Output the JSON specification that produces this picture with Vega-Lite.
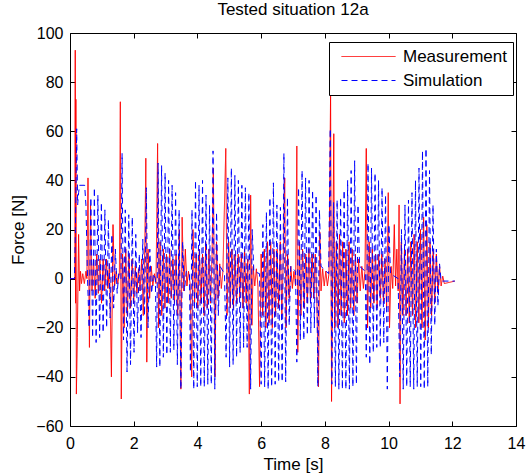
{
"$schema":"https://vega.github.io/schema/vega-lite/v6.json",
"width":446,"height":393,
"autosize":{"type":"none"},
"padding":{"left":70,"top":33,"right":11,"bottom":50},
"background":"white",
"title":{"text":"Tested situation 12a","fontSize":17,"font":"Liberation Sans","fontWeight":"normal","color":"black","anchor":"middle","offset":6},
"config":{
 "view":{"stroke":"black","strokeWidth":1},
 "axis":{"grid":false,"domain":false,"tickColor":"black","tickSize":-5,"labelFont":"Liberation Sans","labelFontSize":16,"labelColor":"black","titleFont":"Liberation Sans","titleFontSize":17,"titleFontWeight":"normal","titleColor":"black","labelFlush":false,"labelOverlap":false},
 "legend":{"labelFont":"Liberation Sans"}
},
"data":{"values":[
{"t":0,"f":0,"s":"Measurement"},{"t":0.15,"f":0,"s":"Measurement"},{"t":0.165,"f":93,"s":"Measurement"},{"t":0.175,"f":-10,"s":"Measurement"},{"t":0.185,"f":73,"s":"Measurement"},{"t":0.2,"f":-47,"s":"Measurement"},{"t":0.23,"f":-24,"s":"Measurement"},{"t":0.27,"f":18,"s":"Measurement"},{"t":0.3,"f":-5,"s":"Measurement"},{"t":0.33,"f":3,"s":"Measurement"},{"t":0.36,"f":-2,"s":"Measurement"},{"t":0.4,"f":2,"s":"Measurement"},{"t":0.45,"f":-2,"s":"Measurement"},{"t":0.5,"f":3,"s":"Measurement"},{"t":0.53,"f":0,"s":"Measurement"},{"t":0.565,"f":41,"s":"Measurement"},{"t":0.61,"f":-28,"s":"Measurement"},{"t":0.645,"f":30,"s":"Measurement"},{"t":0.69,"f":-5,"s":"Measurement"},{"t":0.74,"f":8,"s":"Measurement"},{"t":0.79,"f":-8,"s":"Measurement"},{"t":0.84,"f":10,"s":"Measurement"},{"t":0.89,"f":-6,"s":"Measurement"},{"t":0.94,"f":8,"s":"Measurement"},{"t":0.99,"f":-10,"s":"Measurement"},{"t":1.04,"f":8,"s":"Measurement"},{"t":1.09,"f":-5,"s":"Measurement"},{"t":1.14,"f":8,"s":"Measurement"},{"t":1.19,"f":-4,"s":"Measurement"},{"t":1.24,"f":6,"s":"Measurement"},{"t":1.3,"f":-40,"s":"Measurement"},{"t":1.35,"f":22,"s":"Measurement"},{"t":1.4,"f":-3,"s":"Measurement"},{"t":1.45,"f":3,"s":"Measurement"},{"t":1.5,"f":-2,"s":"Measurement"},{"t":1.55,"f":2,"s":"Measurement"},{"t":1.58,"f":72,"s":"Measurement"},{"t":1.61,"f":-49,"s":"Measurement"},{"t":1.65,"f":10,"s":"Measurement"},{"t":1.7,"f":-20,"s":"Measurement"},{"t":1.75,"f":12,"s":"Measurement"},{"t":1.8,"f":-15,"s":"Measurement"},{"t":1.85,"f":10,"s":"Measurement"},{"t":1.9,"f":-12,"s":"Measurement"},{"t":1.95,"f":8,"s":"Measurement"},{"t":2.0,"f":-10,"s":"Measurement"},{"t":2.05,"f":5,"s":"Measurement"},{"t":2.1,"f":-6,"s":"Measurement"},{"t":2.15,"f":4,"s":"Measurement"},{"t":2.2,"f":-5,"s":"Measurement"},{"t":2.25,"f":8,"s":"Measurement"},{"t":2.3,"f":-15,"s":"Measurement"},{"t":2.35,"f":15,"s":"Measurement"},{"t":2.38,"f":49,"s":"Measurement"},{"t":2.41,"f":-34,"s":"Measurement"},{"t":2.45,"f":12,"s":"Measurement"},{"t":2.5,"f":-8,"s":"Measurement"},{"t":2.55,"f":5,"s":"Measurement"},{"t":2.6,"f":-3,"s":"Measurement"},{"t":2.65,"f":2,"s":"Measurement"},{"t":2.7,"f":-2,"s":"Measurement"},{"t":2.75,"f":55,"s":"Measurement"},{"t":2.78,"f":-20,"s":"Measurement"},{"t":2.83,"f":15,"s":"Measurement"},{"t":2.88,"f":-15,"s":"Measurement"},{"t":2.93,"f":12,"s":"Measurement"},{"t":2.98,"f":-12,"s":"Measurement"},{"t":3.03,"f":10,"s":"Measurement"},{"t":3.08,"f":-10,"s":"Measurement"},{"t":3.13,"f":12,"s":"Measurement"},{"t":3.18,"f":-8,"s":"Measurement"},{"t":3.23,"f":8,"s":"Measurement"},{"t":3.28,"f":-10,"s":"Measurement"},{"t":3.33,"f":10,"s":"Measurement"},{"t":3.38,"f":-15,"s":"Measurement"},{"t":3.43,"f":20,"s":"Measurement"},{"t":3.48,"f":-45,"s":"Measurement"},{"t":3.52,"f":25,"s":"Measurement"},{"t":3.57,"f":-5,"s":"Measurement"},{"t":3.62,"f":12,"s":"Measurement"},{"t":3.67,"f":-3,"s":"Measurement"},{"t":3.72,"f":3,"s":"Measurement"},{"t":3.77,"f":-2,"s":"Measurement"},{"t":3.82,"f":-40,"s":"Measurement"},{"t":3.86,"f":20,"s":"Measurement"},{"t":3.91,"f":-10,"s":"Measurement"},{"t":3.96,"f":10,"s":"Measurement"},{"t":4.01,"f":-12,"s":"Measurement"},{"t":4.06,"f":12,"s":"Measurement"},{"t":4.11,"f":-10,"s":"Measurement"},{"t":4.16,"f":10,"s":"Measurement"},{"t":4.21,"f":-15,"s":"Measurement"},{"t":4.26,"f":15,"s":"Measurement"},{"t":4.31,"f":-12,"s":"Measurement"},{"t":4.36,"f":12,"s":"Measurement"},{"t":4.41,"f":-10,"s":"Measurement"},{"t":4.46,"f":10,"s":"Measurement"},{"t":4.5,"f":45,"s":"Measurement"},{"t":4.55,"f":-40,"s":"Measurement"},{"t":4.6,"f":15,"s":"Measurement"},{"t":4.65,"f":-8,"s":"Measurement"},{"t":4.7,"f":6,"s":"Measurement"},{"t":4.75,"f":-4,"s":"Measurement"},{"t":4.8,"f":3,"s":"Measurement"},{"t":4.89,"f":53,"s":"Measurement"},{"t":4.93,"f":-15,"s":"Measurement"},{"t":4.98,"f":15,"s":"Measurement"},{"t":5.03,"f":-12,"s":"Measurement"},{"t":5.08,"f":12,"s":"Measurement"},{"t":5.13,"f":-12,"s":"Measurement"},{"t":5.18,"f":10,"s":"Measurement"},{"t":5.23,"f":-10,"s":"Measurement"},{"t":5.28,"f":10,"s":"Measurement"},{"t":5.33,"f":-8,"s":"Measurement"},{"t":5.38,"f":10,"s":"Measurement"},{"t":5.43,"f":-12,"s":"Measurement"},{"t":5.48,"f":12,"s":"Measurement"},{"t":5.53,"f":-10,"s":"Measurement"},{"t":5.58,"f":8,"s":"Measurement"},{"t":5.63,"f":-47,"s":"Measurement"},{"t":5.67,"f":34,"s":"Measurement"},{"t":5.71,"f":-19,"s":"Measurement"},{"t":5.75,"f":5,"s":"Measurement"},{"t":5.8,"f":-3,"s":"Measurement"},{"t":5.85,"f":4,"s":"Measurement"},{"t":5.9,"f":-3,"s":"Measurement"},{"t":5.95,"f":-44,"s":"Measurement"},{"t":6.0,"f":10,"s":"Measurement"},{"t":6.05,"f":-15,"s":"Measurement"},{"t":6.1,"f":12,"s":"Measurement"},{"t":6.15,"f":-20,"s":"Measurement"},{"t":6.2,"f":15,"s":"Measurement"},{"t":6.25,"f":-18,"s":"Measurement"},{"t":6.3,"f":15,"s":"Measurement"},{"t":6.35,"f":-20,"s":"Measurement"},{"t":6.4,"f":12,"s":"Measurement"},{"t":6.45,"f":-15,"s":"Measurement"},{"t":6.5,"f":12,"s":"Measurement"},{"t":6.55,"f":-12,"s":"Measurement"},{"t":6.6,"f":15,"s":"Measurement"},{"t":6.65,"f":-15,"s":"Measurement"},{"t":6.7,"f":12,"s":"Measurement"},{"t":6.74,"f":41,"s":"Measurement"},{"t":6.78,"f":-20,"s":"Measurement"},{"t":6.83,"f":10,"s":"Measurement"},{"t":6.88,"f":-8,"s":"Measurement"},{"t":6.93,"f":5,"s":"Measurement"},{"t":6.98,"f":-4,"s":"Measurement"},{"t":7.03,"f":3,"s":"Measurement"},{"t":7.08,"f":-3,"s":"Measurement"},{"t":7.12,"f":54,"s":"Measurement"},{"t":7.15,"f":-30,"s":"Measurement"},{"t":7.2,"f":15,"s":"Measurement"},{"t":7.25,"f":-15,"s":"Measurement"},{"t":7.3,"f":12,"s":"Measurement"},{"t":7.35,"f":-12,"s":"Measurement"},{"t":7.4,"f":10,"s":"Measurement"},{"t":7.45,"f":-10,"s":"Measurement"},{"t":7.5,"f":12,"s":"Measurement"},{"t":7.55,"f":-10,"s":"Measurement"},{"t":7.6,"f":10,"s":"Measurement"},{"t":7.65,"f":-8,"s":"Measurement"},{"t":7.7,"f":10,"s":"Measurement"},{"t":7.75,"f":-10,"s":"Measurement"},{"t":7.8,"f":-44,"s":"Measurement"},{"t":7.84,"f":19,"s":"Measurement"},{"t":7.88,"f":-5,"s":"Measurement"},{"t":7.93,"f":4,"s":"Measurement"},{"t":7.98,"f":-3,"s":"Measurement"},{"t":8.03,"f":3,"s":"Measurement"},{"t":8.08,"f":-3,"s":"Measurement"},{"t":8.13,"f":2,"s":"Measurement"},{"t":8.18,"f":76,"s":"Measurement"},{"t":8.21,"f":-50,"s":"Measurement"},{"t":8.28,"f":59,"s":"Measurement"},{"t":8.31,"f":-20,"s":"Measurement"},{"t":8.36,"f":15,"s":"Measurement"},{"t":8.41,"f":-20,"s":"Measurement"},{"t":8.46,"f":18,"s":"Measurement"},{"t":8.51,"f":-15,"s":"Measurement"},{"t":8.56,"f":15,"s":"Measurement"},{"t":8.61,"f":-18,"s":"Measurement"},{"t":8.66,"f":12,"s":"Measurement"},{"t":8.71,"f":-15,"s":"Measurement"},{"t":8.76,"f":15,"s":"Measurement"},{"t":8.81,"f":-12,"s":"Measurement"},{"t":8.86,"f":12,"s":"Measurement"},{"t":8.91,"f":-15,"s":"Measurement"},{"t":8.96,"f":10,"s":"Measurement"},{"t":9.01,"f":-10,"s":"Measurement"},{"t":9.06,"f":8,"s":"Measurement"},{"t":9.11,"f":-5,"s":"Measurement"},{"t":9.16,"f":5,"s":"Measurement"},{"t":9.21,"f":-4,"s":"Measurement"},{"t":9.26,"f":3,"s":"Measurement"},{"t":9.3,"f":53,"s":"Measurement"},{"t":9.34,"f":-20,"s":"Measurement"},{"t":9.39,"f":15,"s":"Measurement"},{"t":9.44,"f":-12,"s":"Measurement"},{"t":9.49,"f":12,"s":"Measurement"},{"t":9.54,"f":-10,"s":"Measurement"},{"t":9.59,"f":10,"s":"Measurement"},{"t":9.64,"f":-12,"s":"Measurement"},{"t":9.69,"f":10,"s":"Measurement"},{"t":9.74,"f":-8,"s":"Measurement"},{"t":9.79,"f":10,"s":"Measurement"},{"t":9.84,"f":-10,"s":"Measurement"},{"t":9.89,"f":8,"s":"Measurement"},{"t":9.94,"f":-12,"s":"Measurement"},{"t":9.99,"f":35,"s":"Measurement"},{"t":10.03,"f":-20,"s":"Measurement"},{"t":10.08,"f":5,"s":"Measurement"},{"t":10.13,"f":-4,"s":"Measurement"},{"t":10.18,"f":22,"s":"Measurement"},{"t":10.22,"f":-3,"s":"Measurement"},{"t":10.26,"f":12,"s":"Measurement"},{"t":10.3,"f":-5,"s":"Measurement"},{"t":10.33,"f":30,"s":"Measurement"},{"t":10.36,"f":-51,"s":"Measurement"},{"t":10.4,"f":15,"s":"Measurement"},{"t":10.45,"f":-15,"s":"Measurement"},{"t":10.5,"f":12,"s":"Measurement"},{"t":10.55,"f":-15,"s":"Measurement"},{"t":10.6,"f":12,"s":"Measurement"},{"t":10.65,"f":-18,"s":"Measurement"},{"t":10.7,"f":15,"s":"Measurement"},{"t":10.75,"f":-15,"s":"Measurement"},{"t":10.8,"f":18,"s":"Measurement"},{"t":10.85,"f":-20,"s":"Measurement"},{"t":10.9,"f":15,"s":"Measurement"},{"t":10.95,"f":-18,"s":"Measurement"},{"t":11.0,"f":20,"s":"Measurement"},{"t":11.05,"f":-20,"s":"Measurement"},{"t":11.1,"f":25,"s":"Measurement"},{"t":11.15,"f":-25,"s":"Measurement"},{"t":11.2,"f":22,"s":"Measurement"},{"t":11.25,"f":-20,"s":"Measurement"},{"t":11.3,"f":15,"s":"Measurement"},{"t":11.35,"f":-15,"s":"Measurement"},{"t":11.4,"f":12,"s":"Measurement"},{"t":11.45,"f":-10,"s":"Measurement"},{"t":11.5,"f":10,"s":"Measurement"},{"t":11.55,"f":-6,"s":"Measurement"},{"t":11.6,"f":5,"s":"Measurement"},{"t":11.65,"f":-3,"s":"Measurement"},{"t":11.7,"f":1,"s":"Measurement"},{"t":11.75,"f":-2,"s":"Measurement"},{"t":12.08,"f":-1,"s":"Measurement"},
{"t":0,"f":0,"s":"Simulation"},{"t":0.14,"f":0,"s":"Simulation"},{"t":0.17,"f":20,"s":"Simulation"},{"t":0.21,"f":61,"s":"Simulation"},{"t":0.24,"f":30,"s":"Simulation"},{"t":0.27,"f":35,"s":"Simulation"},{"t":0.3,"f":38,"s":"Simulation"},{"t":0.46,"f":38,"s":"Simulation"},{"t":0.5,"f":30,"s":"Simulation"},{"t":0.55,"f":0,"s":"Simulation"},{"t":0.6,"f":-20,"s":"Simulation"},{"t":0.655,"f":33,"s":"Simulation"},{"t":0.71,"f":-24,"s":"Simulation"},{"t":0.765,"f":37,"s":"Simulation"},{"t":0.82,"f":-26,"s":"Simulation"},{"t":0.875,"f":34,"s":"Simulation"},{"t":0.93,"f":-24,"s":"Simulation"},{"t":0.985,"f":31,"s":"Simulation"},{"t":1.04,"f":-22,"s":"Simulation"},{"t":1.095,"f":28,"s":"Simulation"},{"t":1.15,"f":-20,"s":"Simulation"},{"t":1.205,"f":24,"s":"Simulation"},{"t":1.26,"f":-16,"s":"Simulation"},{"t":1.315,"f":18,"s":"Simulation"},{"t":1.37,"f":-12,"s":"Simulation"},{"t":1.425,"f":12,"s":"Simulation"},{"t":1.48,"f":-6,"s":"Simulation"},{"t":1.53,"f":2,"s":"Simulation"},{"t":1.6,"f":0,"s":"Simulation"},{"t":1.635,"f":51,"s":"Simulation"},{"t":1.68,"f":-25,"s":"Simulation"},{"t":1.735,"f":28,"s":"Simulation"},{"t":1.79,"f":-38,"s":"Simulation"},{"t":1.845,"f":26,"s":"Simulation"},{"t":1.9,"f":-35,"s":"Simulation"},{"t":1.955,"f":25,"s":"Simulation"},{"t":2.01,"f":-30,"s":"Simulation"},{"t":2.065,"f":18,"s":"Simulation"},{"t":2.12,"f":-22,"s":"Simulation"},{"t":2.175,"f":10,"s":"Simulation"},{"t":2.23,"f":-24,"s":"Simulation"},{"t":2.285,"f":16,"s":"Simulation"},{"t":2.34,"f":-15,"s":"Simulation"},{"t":2.395,"f":37,"s":"Simulation"},{"t":2.45,"f":-20,"s":"Simulation"},{"t":2.505,"f":12,"s":"Simulation"},{"t":2.56,"f":-6,"s":"Simulation"},{"t":2.62,"f":2,"s":"Simulation"},{"t":2.68,"f":0,"s":"Simulation"},{"t":2.72,"f":-36,"s":"Simulation"},{"t":2.765,"f":47,"s":"Simulation"},{"t":2.82,"f":-36,"s":"Simulation"},{"t":2.875,"f":46,"s":"Simulation"},{"t":2.93,"f":-32,"s":"Simulation"},{"t":2.985,"f":43,"s":"Simulation"},{"t":3.04,"f":-31,"s":"Simulation"},{"t":3.095,"f":40,"s":"Simulation"},{"t":3.15,"f":-30,"s":"Simulation"},{"t":3.205,"f":38,"s":"Simulation"},{"t":3.26,"f":-29,"s":"Simulation"},{"t":3.315,"f":35,"s":"Simulation"},{"t":3.37,"f":-35,"s":"Simulation"},{"t":3.425,"f":28,"s":"Simulation"},{"t":3.48,"f":-45,"s":"Simulation"},{"t":3.535,"f":15,"s":"Simulation"},{"t":3.59,"f":-5,"s":"Simulation"},{"t":3.65,"f":3,"s":"Simulation"},{"t":3.75,"f":2,"s":"Simulation"},{"t":3.78,"f":-38,"s":"Simulation"},{"t":3.83,"f":28,"s":"Simulation"},{"t":3.885,"f":-45,"s":"Simulation"},{"t":3.94,"f":40,"s":"Simulation"},{"t":3.995,"f":-44,"s":"Simulation"},{"t":4.05,"f":38,"s":"Simulation"},{"t":4.105,"f":-44,"s":"Simulation"},{"t":4.16,"f":40,"s":"Simulation"},{"t":4.215,"f":-44,"s":"Simulation"},{"t":4.27,"f":34,"s":"Simulation"},{"t":4.325,"f":-43,"s":"Simulation"},{"t":4.38,"f":30,"s":"Simulation"},{"t":4.435,"f":-43,"s":"Simulation"},{"t":4.49,"f":52,"s":"Simulation"},{"t":4.545,"f":-45,"s":"Simulation"},{"t":4.6,"f":27,"s":"Simulation"},{"t":4.655,"f":-15,"s":"Simulation"},{"t":4.71,"f":5,"s":"Simulation"},{"t":4.85,"f":2,"s":"Simulation"},{"t":4.9,"f":-32,"s":"Simulation"},{"t":4.955,"f":41,"s":"Simulation"},{"t":5.01,"f":-36,"s":"Simulation"},{"t":5.065,"f":45,"s":"Simulation"},{"t":5.12,"f":-35,"s":"Simulation"},{"t":5.175,"f":42,"s":"Simulation"},{"t":5.23,"f":-32,"s":"Simulation"},{"t":5.285,"f":40,"s":"Simulation"},{"t":5.34,"f":-30,"s":"Simulation"},{"t":5.395,"f":38,"s":"Simulation"},{"t":5.45,"f":-28,"s":"Simulation"},{"t":5.505,"f":37,"s":"Simulation"},{"t":5.56,"f":-28,"s":"Simulation"},{"t":5.615,"f":35,"s":"Simulation"},{"t":5.67,"f":-45,"s":"Simulation"},{"t":5.72,"f":20,"s":"Simulation"},{"t":5.77,"f":3,"s":"Simulation"},{"t":5.95,"f":2,"s":"Simulation"},{"t":6.0,"f":-43,"s":"Simulation"},{"t":6.055,"f":22,"s":"Simulation"},{"t":6.11,"f":-44,"s":"Simulation"},{"t":6.165,"f":27,"s":"Simulation"},{"t":6.22,"f":-45,"s":"Simulation"},{"t":6.275,"f":33,"s":"Simulation"},{"t":6.33,"f":-44,"s":"Simulation"},{"t":6.385,"f":39,"s":"Simulation"},{"t":6.44,"f":-43,"s":"Simulation"},{"t":6.495,"f":30,"s":"Simulation"},{"t":6.55,"f":-42,"s":"Simulation"},{"t":6.605,"f":29,"s":"Simulation"},{"t":6.66,"f":-42,"s":"Simulation"},{"t":6.715,"f":51,"s":"Simulation"},{"t":6.77,"f":-42,"s":"Simulation"},{"t":6.825,"f":33,"s":"Simulation"},{"t":6.88,"f":-19,"s":"Simulation"},{"t":6.93,"f":5,"s":"Simulation"},{"t":7.08,"f":3,"s":"Simulation"},{"t":7.12,"f":-34,"s":"Simulation"},{"t":7.175,"f":37,"s":"Simulation"},{"t":7.23,"f":-25,"s":"Simulation"},{"t":7.285,"f":44,"s":"Simulation"},{"t":7.34,"f":-25,"s":"Simulation"},{"t":7.395,"f":41,"s":"Simulation"},{"t":7.45,"f":-23,"s":"Simulation"},{"t":7.505,"f":40,"s":"Simulation"},{"t":7.56,"f":-22,"s":"Simulation"},{"t":7.615,"f":36,"s":"Simulation"},{"t":7.67,"f":-20,"s":"Simulation"},{"t":7.725,"f":34,"s":"Simulation"},{"t":7.78,"f":-44,"s":"Simulation"},{"t":7.83,"f":28,"s":"Simulation"},{"t":7.88,"f":5,"s":"Simulation"},{"t":8.12,"f":2,"s":"Simulation"},{"t":8.17,"f":61,"s":"Simulation"},{"t":8.22,"f":-43,"s":"Simulation"},{"t":8.275,"f":31,"s":"Simulation"},{"t":8.33,"f":-44,"s":"Simulation"},{"t":8.385,"f":32,"s":"Simulation"},{"t":8.44,"f":-45,"s":"Simulation"},{"t":8.495,"f":33,"s":"Simulation"},{"t":8.55,"f":-45,"s":"Simulation"},{"t":8.605,"f":36,"s":"Simulation"},{"t":8.66,"f":-45,"s":"Simulation"},{"t":8.715,"f":40,"s":"Simulation"},{"t":8.77,"f":-45,"s":"Simulation"},{"t":8.825,"f":44,"s":"Simulation"},{"t":8.88,"f":-44,"s":"Simulation"},{"t":8.935,"f":48,"s":"Simulation"},{"t":8.99,"f":-43,"s":"Simulation"},{"t":9.04,"f":30,"s":"Simulation"},{"t":9.09,"f":5,"s":"Simulation"},{"t":9.27,"f":3,"s":"Simulation"},{"t":9.3,"f":-32,"s":"Simulation"},{"t":9.355,"f":47,"s":"Simulation"},{"t":9.41,"f":-35,"s":"Simulation"},{"t":9.465,"f":45,"s":"Simulation"},{"t":9.52,"f":-30,"s":"Simulation"},{"t":9.575,"f":43,"s":"Simulation"},{"t":9.63,"f":-28,"s":"Simulation"},{"t":9.685,"f":40,"s":"Simulation"},{"t":9.74,"f":-28,"s":"Simulation"},{"t":9.795,"f":37,"s":"Simulation"},{"t":9.85,"f":-26,"s":"Simulation"},{"t":9.905,"f":34,"s":"Simulation"},{"t":9.96,"f":-45,"s":"Simulation"},{"t":10.01,"f":22,"s":"Simulation"},{"t":10.06,"f":2,"s":"Simulation"},{"t":10.3,"f":0,"s":"Simulation"},{"t":10.35,"f":-40,"s":"Simulation"},{"t":10.405,"f":20,"s":"Simulation"},{"t":10.46,"f":-45,"s":"Simulation"},{"t":10.515,"f":30,"s":"Simulation"},{"t":10.57,"f":-44,"s":"Simulation"},{"t":10.625,"f":32,"s":"Simulation"},{"t":10.68,"f":-44,"s":"Simulation"},{"t":10.735,"f":35,"s":"Simulation"},{"t":10.79,"f":-45,"s":"Simulation"},{"t":10.845,"f":40,"s":"Simulation"},{"t":10.9,"f":-44,"s":"Simulation"},{"t":10.955,"f":45,"s":"Simulation"},{"t":11.01,"f":-44,"s":"Simulation"},{"t":11.065,"f":52,"s":"Simulation"},{"t":11.12,"f":-45,"s":"Simulation"},{"t":11.175,"f":53,"s":"Simulation"},{"t":11.23,"f":-44,"s":"Simulation"},{"t":11.285,"f":44,"s":"Simulation"},{"t":11.34,"f":-31,"s":"Simulation"},{"t":11.395,"f":30,"s":"Simulation"},{"t":11.45,"f":-19,"s":"Simulation"},{"t":11.5,"f":12,"s":"Simulation"},{"t":11.55,"f":-11,"s":"Simulation"},{"t":11.6,"f":6,"s":"Simulation"},{"t":11.65,"f":-1,"s":"Simulation"},{"t":12.08,"f":-1,"s":"Simulation"}
]},
"layer":[
 {"mark":{"type":"line","strokeWidth":1,"clip":true},
  "encoding":{
   "x":{"field":"t","type":"quantitative","scale":{"domain":[0,14],"nice":false,"zero":false},
        "axis":{"orient":"bottom","values":[0,2,4,6,8,10,12,14],"title":"Time [s]","labelPadding":14,"titlePadding":5}},
   "y":{"field":"f","type":"quantitative","scale":{"domain":[-60,100],"nice":false,"zero":false},
        "axis":{"orient":"left","values":[-60,-40,-20,0,20,40,60,80,100],"title":"Force [N]","labelPadding":12,"titlePadding":8}},
   "color":{"field":"s","type":"nominal","scale":{"domain":["Measurement","Simulation"],"range":["#ff0000","#0000ff"]},
     "legend":{"title":null,"orient":"none","legendX":259,"legendY":9,"fillColor":"white","strokeColor":"black","padding":6,"symbolOffset":25,"symbolType":"M-4.5,0H4.5","symbolSize":144,"symbolStrokeWidth":1,"labelFontSize":17,"labelOffset":26,"rowPadding":6,"labelColor":"black"}},
   "strokeDash":{"field":"s","type":"nominal","scale":{"domain":["Measurement","Simulation"],"range":[[1,0],[6,4]]},
     "legend":{"title":null,"orient":"none","legendX":259,"legendY":9,"fillColor":"white","strokeColor":"black","padding":6,"symbolOffset":25,"symbolType":"M-4.5,0H4.5","symbolSize":144,"symbolStrokeWidth":1,"labelFontSize":17,"labelOffset":26,"rowPadding":6,"labelColor":"black"}}
  }},
 {"mark":{"type":"point","opacity":0},
  "encoding":{
   "x":{"field":"t","type":"quantitative","axis":{"orient":"top","values":[0,2,4,6,8,10,12,14],"labels":false,"title":null}},
   "y":{"field":"f","type":"quantitative","axis":{"orient":"right","values":[-60,-40,-20,0,20,40,60,80,100],"labels":false,"title":null}}
  }}
],
"resolve":{"axis":{"x":"independent","y":"independent"}}
}
